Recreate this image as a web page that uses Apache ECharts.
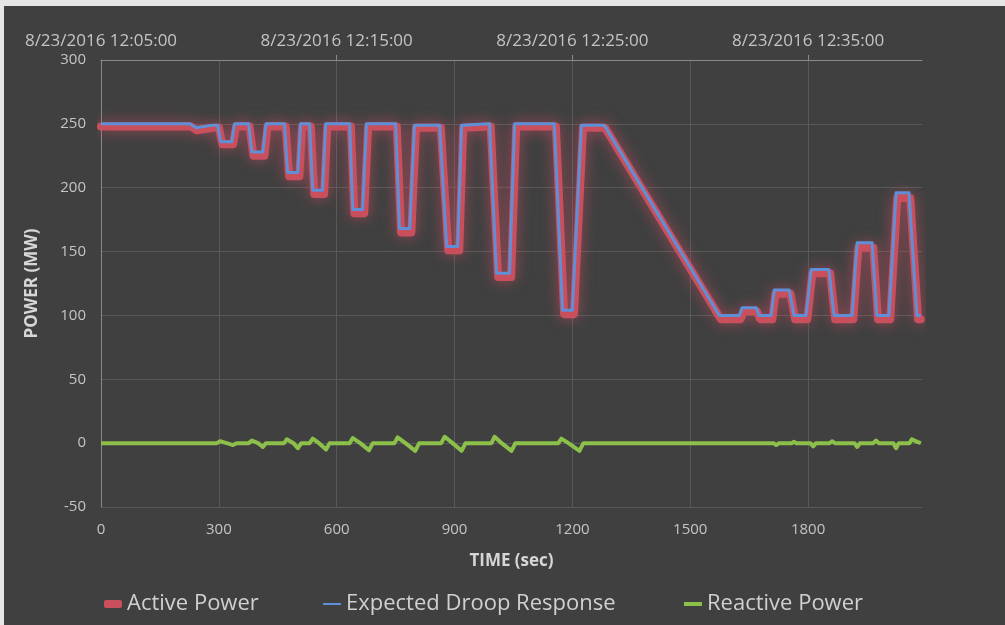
<!DOCTYPE html>
<html>
<head>
<meta charset="utf-8">
<script src="https://cdn.jsdelivr.net/npm/echarts@6/dist/echarts.min.js"></script>
<style>
html,body{margin:0;padding:0;background:#e6e6e6;}
#chart{position:absolute;left:4px;top:6px;width:1001px;height:619px;background:#404040;}
</style>
</head>
<body>
<div id="chart"></div>
<script>
// expected droop response (blue), time in sec / MW
var droopTime = [0, 226, 242, 285, 297, 305, 333, 340, 376, 384, 412, 420, 467, 475, 501, 508, 531, 539, 564, 572,
    633, 641, 666, 676, 750, 760, 786, 798, 862, 880, 908, 918, 989, 1007, 1040, 1053, 1154, 1175, 1200, 1223, 1281,
    1574, 1625, 1632, 1668, 1675, 1706, 1714, 1752, 1764, 1795, 1808, 1853, 1866, 1912, 1925, 1963, 1975, 2006, 2024,
    2057, 2077, 2087];
var droopMW = [250, 250, 247, 249, 249, 236, 236, 250, 250, 228, 228, 250, 250, 212, 212, 250, 250, 198, 198, 250,
    250, 183, 183, 250, 250, 168, 168, 249, 249, 154, 154, 249, 250, 133, 133, 250, 250, 104, 104, 249, 249,
    100, 100, 106, 106, 100, 100, 120, 120, 100, 100, 136, 136, 100, 100, 157, 157, 100, 100, 196,
    196, 100, 100];

// active power (red)
var activeTime = [0, 228, 244, 287, 300, 309, 336, 344, 378, 388, 416, 424, 470, 479, 505, 512, 534, 543, 568, 576,
    636, 645, 670, 680, 753, 764, 790, 802, 865, 884, 912, 922, 992, 1011, 1044, 1057, 1158, 1179, 1204, 1227, 1283,
    1578, 1628, 1636, 1670, 1678, 1709, 1717, 1755, 1767, 1798, 1811, 1856, 1869, 1915, 1928, 1966, 1978, 2009, 2027,
    2060, 2080, 2087];
var activeMW = [248, 248, 245, 247, 247, 234, 234, 248, 248, 225, 225, 248, 248, 209, 209, 248, 248, 195, 195, 248,
    248, 180, 180, 248, 248, 165, 165, 247, 247, 151, 151, 247, 248, 130, 130, 248, 248, 101, 101, 247, 247,
    97, 97, 103, 103, 97, 97, 117, 117, 97, 97, 133, 133, 97, 97, 153, 153, 97, 97, 192,
    192, 97, 97];

// reactive power (green)
var reactiveTime = [0, 295, 303, 320, 336, 345, 376, 384, 400, 412, 420, 466, 473, 490, 501, 510, 531, 539, 555, 573,
    582, 633, 641, 660, 682, 692, 747, 755, 775, 800, 810, 866, 875, 895, 918, 928, 994, 1002, 1020, 1045, 1055,
    1164, 1172, 1190, 1218, 1228, 1712, 1719, 1726, 1758, 1764, 1770, 1806, 1813, 1820, 1855, 1861, 1868, 1918,
    1925, 1932, 1966, 1973, 1980, 2017, 2024, 2031, 2058, 2064, 2078, 2087];
var reactiveMVar = [0, 0, 1.5, 0, -1.5, 0, 0, 2, 0, -3, 0, 0, 3, 0, -4, 0, 0, 3.5, 0, -5,
    0, 0, 4, 0, -5.5, 0, 0, 4.5, 0, -6, 0, 0, 5, 0, -6, 0, 0, 5, 0, -6, 0,
    0, 3.5, 0, -6, 0, 0, -1.5, 0, 0, 1, 0, 0, -2.5, 0, 0, 1.5, 0, 0,
    -3, 0, 0, 2, 0, 0, -4, 0, 0, 3, 1, 0];

var xTicks = [0, 300, 600, 900, 1200, 1500, 1800];
var topTicks = [0, 600, 1200, 1800];
var topTickLabels = ['8/23/2016 12:05:00', '8/23/2016 12:15:00', '8/23/2016 12:25:00', '8/23/2016 12:35:00'];

function pairs(xs, ys) {
    return xs.map(function (x, i) { return [x, ys[i]]; });
}

var labelColor = '#c4c4c4';
var gridColor = '#595959';
var axisColor = '#8a8a8a';

var chart = echarts.init(document.getElementById('chart'), null, {renderer: 'canvas'});

var option = {
    animation: false,
    backgroundColor: '#404040',
    textStyle: {fontFamily: 'Open Sans'},
    grid: {left: 97, right: 83, top: 54, bottom: 118, containLabel: false},
    xAxis: [
        {
            type: 'value',
            min: 0,
            max: 2090,
            interval: 300,
            position: 'bottom',
            axisLine: {show: false},
            axisTick: {show: false, customValues: xTicks},
            axisLabel: {
                customValues: xTicks, color: labelColor, fontSize: 15, margin: 15,
                formatter: function (v) { return String(v); }
            },
            splitLine: {show: true, lineStyle: {color: gridColor, width: 1}},
            name: 'TIME (sec)',
            nameLocation: 'middle',
            nameGap: 46,
            nameTextStyle: {color: '#d6d6d6', fontSize: 17, fontWeight: 'bold'}
        },
        {
            type: 'value',
            min: 0,
            max: 2090,
            interval: 600,
            position: 'top',
            axisLine: {show: true, onZero: false, lineStyle: {color: axisColor}},
            axisTick: {show: true, length: 5, customValues: [600, 1200, 1800], lineStyle: {color: axisColor}},
            axisLabel: {
                customValues: topTicks,
                color: labelColor,
                fontSize: 17,
                margin: 10,
                formatter: function (v) {
                    var i = topTicks.indexOf(v);
                    return i < 0 ? '' : topTickLabels[i];
                }
            },
            splitLine: {show: false}
        }
    ],
    yAxis: {
        type: 'value',
        min: -50,
        max: 300,
        interval: 50,
        axisLine: {show: true, onZero: false, lineStyle: {color: axisColor}},
        axisTick: {show: false},
        axisLabel: {color: labelColor, fontSize: 15, margin: 15},
        splitLine: {show: true, lineStyle: {color: gridColor, width: 1}},
        name: 'POWER (MW)',
        nameLocation: 'middle',
        nameGap: 60,
        nameTextStyle: {color: '#d6d6d6', fontSize: 17, fontWeight: 'bold'}
    },
    legend: [
        {
            data: ['Active Power'], left: 95, top: 582, icon: 'roundRect', itemWidth: 18, itemHeight: 8,
            textStyle: {color: '#d0d0d0', fontSize: 22}
        },
        {
            data: ['Expected Droop Response'], left: 314, top: 582, icon: 'rect', itemWidth: 18, itemHeight: 2,
            textStyle: {color: '#d0d0d0', fontSize: 22}
        },
        {
            data: ['Reactive Power'], left: 675, top: 582, icon: 'rect', itemWidth: 18, itemHeight: 4,
            textStyle: {color: '#d0d0d0', fontSize: 22}
        }
    ],
    series: [
        {
            name: 'Active Power',
            type: 'line',
            data: pairs(activeTime, activeMW),
            showSymbol: false,
            color: '#c94f5d',
            lineStyle: {width: 8, color: '#c94f5d', cap: 'round', join: 'round',
                shadowBlur: 14, shadowColor: 'rgba(225,80,105,0.6)'}
        },
        {
            name: 'Expected Droop Response',
            type: 'line',
            data: pairs(droopTime, droopMW),
            showSymbol: false,
            color: '#5f8fd6',
            lineStyle: {width: 3, color: '#5f8fd6', join: 'round'}
        },
        {
            name: 'Reactive Power',
            type: 'line',
            data: pairs(reactiveTime, reactiveMVar),
            showSymbol: false,
            color: '#8cc04a',
            lineStyle: {width: 4, color: '#8cc04a', join: 'round'}
        }
    ]
};

chart.setOption(option);
</script>
</body>
</html>
